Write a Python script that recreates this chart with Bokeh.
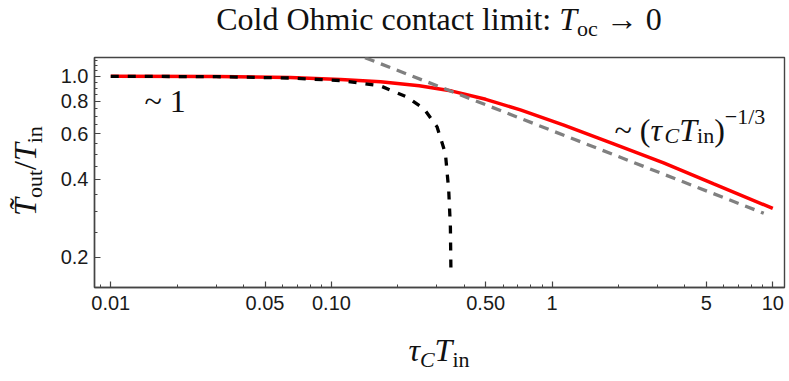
import math
from bokeh.plotting import figure
from bokeh.models import Range1d, FixedTicker, Label, ColumnDataSource, CustomJSTickFormatter, Div
from bokeh.layouts import column, row
from bokeh.embed import file_html
from bokeh.resources import INLINE

# ---------------- data ----------------
red_x = [0.01, 0.03, 0.065, 0.11, 0.167, 0.25, 0.352, 0.5, 0.718, 1.13, 1.9, 3.2, 5.4, 10.0]
red_y = [1.0, 0.998, 0.989, 0.973, 0.952, 0.920, 0.877, 0.815, 0.742, 0.648, 0.548, 0.463, 0.384, 0.309]

black_x = [0.01, 0.03, 0.065, 0.11, 0.167, 0.22, 0.262, 0.301, 0.3284, 0.340, 0.346, 0.348]
black_y = [1.0, 0.997, 0.985, 0.963, 0.918, 0.832, 0.751, 0.638, 0.504, 0.363, 0.262, 0.174]

gray_x = [0.142, 9.1]
gray_y = [1.18, 0.296]

x_ticks = [0.01, 0.05, 0.1, 0.5, 1, 5, 10]
x_tick_labels = ["0.01", "0.05", "0.10", "0.50", "1", "5", "10"]
x_minor = [0.009, 0.02, 0.03, 0.04, 0.06, 0.07, 0.08, 0.09,
           0.2, 0.3, 0.4, 0.6, 0.7, 0.8, 0.9, 2, 3, 4, 6, 7, 8, 9]
y_ticks = [0.2, 0.4, 0.6, 0.8, 1.0]
y_tick_labels = ["0.2", "0.4", "0.6", "0.8", "1.0"]
y_minor = [0.25, 0.3, 0.35, 0.45, 0.5, 0.55, 0.65, 0.7, 0.75, 0.85, 0.9, 0.95,
           1.05, 1.1, 1.15]

X_MIN, X_MAX = 0.00844, 11.3
Y_MIN, Y_MAX = 0.153, 1.182

# ---------------- layout (page pixels) ----------------
TOP_H = 48          # title strip
MID_H = 279         # plot row
BOT_H = 54          # x-label strip
YLAB_W = 52
P_W = 737
FRAME_L = YLAB_W + 42     # 94
FRAME_B = TOP_H + 9 + 230 # 287

p = figure(width=P_W, height=MID_H, x_axis_type="log", y_axis_type="log",
           x_range=Range1d(X_MIN, X_MAX), y_range=Range1d(Y_MIN, Y_MAX),
           output_backend="svg", toolbar_location=None,
           min_border_left=42, min_border_right=5, min_border_top=9, min_border_bottom=40)
p.margin = 0
p.xgrid.visible = False
p.ygrid.visible = False
p.outline_line_color = "#444444"
p.outline_line_width = 1.4
p.background_fill_color = "white"
p.border_fill_color = "white"

fmt_code = """
for (let i = 0; i < tv.length; i++) {
  if (Math.abs(Math.log10(tick) - Math.log10(tv[i])) < 1e-6) return tl[i];
}
return '';
"""
for ax, tk, lb, mn in [(p.xaxis[0], x_ticks, x_tick_labels, x_minor),
                       (p.yaxis[0], y_ticks, y_tick_labels, y_minor)]:
    ax.ticker = FixedTicker(ticks=tk, minor_ticks=mn)
    ax.formatter = CustomJSTickFormatter(args=dict(tv=tk, tl=lb), code=fmt_code)
    ax.axis_line_color = "#444444"
    ax.axis_line_width = 1.4
    ax.major_tick_line_color = "#444444"
    ax.minor_tick_line_color = "#444444"
    ax.major_tick_line_width = 1.2
    ax.minor_tick_line_width = 1.0
    ax.major_tick_in = 6
    ax.major_tick_out = 0
    ax.minor_tick_in = 3
    ax.minor_tick_out = 0
    ax.major_label_text_font = "Liberation Sans"
    ax.major_label_text_font_size = "20px"
    ax.major_label_text_color = "#1a1a1a"
p.xaxis.major_label_standoff = 8
p.yaxis.major_label_standoff = 6

p.line(x="x", y="y", source=ColumnDataSource(dict(x=red_x, y=red_y)),
       line_color="#ff0000", line_width=3.5)
p.line(x="x", y="y", source=ColumnDataSource(dict(x=gray_x, y=gray_y)),
       line_color="#808080", line_width=3.3, line_dash="10 7")
p.line(x="x", y="y", source=ColumnDataSource(dict(x=black_x, y=black_y)),
       line_color="#000000", line_width=3.3, line_dash="8 9")

# ---------------- in-plot annotations (composed runs) ----------------
REG = {' ': 250, 'C': 667, 'o': 500, 'l': 278, 'd': 500, 'O': 722, 'h': 500, 'm': 778,
       'i': 278, 'c': 444, 'n': 500, 't': 278, 'a': 444, ':': 278, '(': 333, ')': 333,
       '0': 500, '1': 500, '3': 500, '/': 278, '\u2212': 564, '\u2192': 1000, '~': 541,
       'u': 500}
ITA = {'T': 556, 'C': 667, '\u03c4': 440, '/': 278}

def text_w(t, italic, size):
    tab = ITA if italic else REG
    return sum(tab.get(ch, 500) for ch in t) * size / 1000.0

SERIF = "Liberation Serif"
F = 32
S = 22
LIFT = 13   # correction for Label baseline placement

def put_runs(runs, px, py):
    pos = 0.0
    for t, it, s, shift in runs:
        p.add_layout(Label(x=px + pos - FRAME_L, y=FRAME_B - (py + shift - LIFT),
                           x_units="screen", y_units="screen", text=t,
                           text_font=SERIF, text_font_size=f"{s}px",
                           text_font_style="italic" if it else "normal",
                           text_color="#111111", text_baseline="alphabetic",
                           text_align="left"))
        pos += text_w(t, it, s)

put_runs([("~ 1", False, F, 0)], 144, 113)
put_runs([("~ (", False, F, 0), ("\u03c4", True, F, 0), ("C", True, S, 6),
          ("T", True, F, 0), ("in", False, S, 6), (")", False, F, 0),
          ("\u22121/3", False, S, -13)], 614, 142)

# ---------------- title / axis labels as HTML text ----------------
def spans(runs):
    out = []
    for t, it, s, shift in runs:
        st = f"font-size:{s}px;position:relative;top:{shift}px;line-height:0;"
        if it:
            st += "font-style:italic;"
        out.append(f'<span style="{st}">{t}</span>')
    return "".join(out)

BASE = 26.8  # baseline offset inside a 32px line box
def line_box(inner, width, tx, ty, rotate=False):
    tr = f"translate({tx}px,{ty}px)" + (" rotate(-90deg)" if rotate else "")
    return (f'<div style="width:{width}px;height:{F}px;line-height:{F}px;'
            f"text-align:center;white-space:pre;font-family:'{SERIF}';font-size:{F}px;"
            f'color:#111;transform-origin:0 0;transform:{tr};">{inner}</div>')

title_runs = [("Cold Ohmic contact limit: ", False, F, 0), ("T", True, F, 0),
              ("oc", False, S, 6), (" \u2192 0", False, F, 0)]
xlab_runs = [("\u03c4", True, F, 0), ("C", True, S, 6), ("T", True, F, 0), ("in", False, S, 6)]
ylab_runs = [("T&#x303;", True, F, 0), ("out", False, S, 6), ("/", False, F, 0),
             ("T", True, F, 0), ("in", False, S, 6)]

div_style = {"overflow": "visible", "margin": "0", "padding": "0"}
title_div = Div(text=line_box(spans(title_runs), 878, 0, 30 - BASE), width=789, height=TOP_H,
                margin=0, styles=div_style)
xlab_div = Div(text=line_box(spans(xlab_runs), 878, 0, 361 - FRAME_B - 40 - BASE), width=789,
               height=BOT_H, margin=0, styles=div_style)
ylab_div = Div(text=line_box(spans(ylab_runs), 200, 36 - BASE, 171 - TOP_H + 100, rotate=True),
               width=YLAB_W, height=MID_H, margin=0, styles=div_style)

layout = column(title_div, row(ylab_div, p, spacing=0), xlab_div, spacing=0)

open("out.html", "w").write(file_html(layout, INLINE))
